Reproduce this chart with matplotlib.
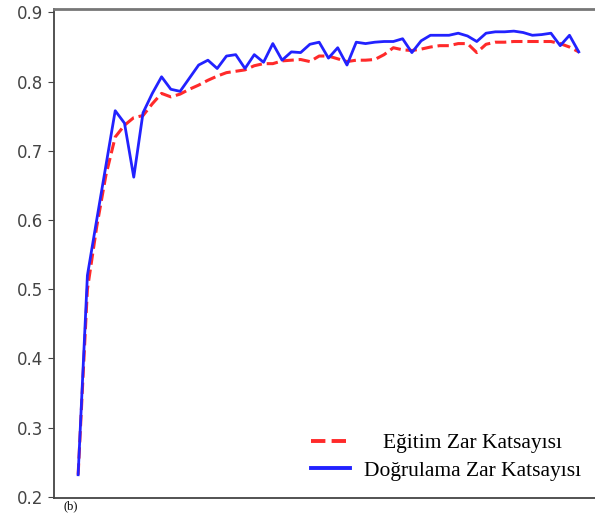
"""
Dice coefficient curves (training vs validation) per epoch.
"""

# %% imports
import numpy as np
import matplotlib
matplotlib.use('Agg')
import matplotlib.pyplot as plt
from matplotlib.transforms import Affine2D


# %% data
egitim = [0.232, 0.500, 0.590, 0.665, 0.720, 0.737, 0.748, 0.751, 0.768, 0.783,
          0.778, 0.782, 0.789, 0.795, 0.802, 0.808, 0.813, 0.815, 0.817, 0.823,
          0.826, 0.826, 0.830, 0.831, 0.832, 0.829, 0.837, 0.837, 0.833, 0.829,
          0.831, 0.831, 0.832, 0.839, 0.849, 0.846, 0.845, 0.847, 0.850, 0.852,
          0.852, 0.855, 0.855, 0.842, 0.854, 0.857, 0.857, 0.858, 0.858, 0.858,
          0.858, 0.858, 0.855, 0.850, 0.843]

dogrulama = [0.232, 0.520, 0.600, 0.679, 0.758, 0.740, 0.662, 0.755, 0.783, 0.807,
             0.789, 0.786, 0.805, 0.824, 0.831, 0.819, 0.837, 0.839, 0.819, 0.839,
             0.828, 0.855, 0.831, 0.843, 0.842, 0.854, 0.857, 0.834, 0.849, 0.824,
             0.857, 0.855, 0.857, 0.858, 0.858, 0.862, 0.842, 0.859, 0.867, 0.867,
             0.867, 0.870, 0.866, 0.858, 0.870, 0.872, 0.872, 0.873, 0.871, 0.867,
             0.868, 0.870, 0.852, 0.867, 0.843]

labels = ['Eğitim Zar Katsayısı', 'Doğrulama Zar Katsayısı']
yticks = [0.2, 0.3, 0.4, 0.5, 0.6, 0.7, 0.8, 0.9]

epochs = np.arange(len(egitim))


# %% plot
fig = plt.figure(figsize=(5.95, 5.13), dpi=100)
ax = fig.add_axes([0.0908, 0.0287, 0.9224, 0.9538])

ax.plot(epochs, egitim, '--', color='#ff2a2a', lw=2.2, label=labels[0])
ax.plot(epochs, dogrulama, '-', color='#2222ff', lw=2.0, label=labels[1])

ax.set_xlim(-2.6, 56.6)
ax.set_ylim(0.198, 0.905)
ax.set_yticks(yticks)
ax.set_yticklabels([f'{v:.1f}' for v in yticks])
ax.set_xticks([])
ax.tick_params(axis='y', labelsize=12, labelcolor='#444444', color='#444444', length=4)
for side in ['left', 'bottom', 'top', 'right']:
    ax.spines[side].set_color('#444444')
    ax.spines[side].set_linewidth(1.3)
ax.spines['top'].set_color('#777777')
ax.spines['top'].set_linewidth(2.0)

leg = ax.legend(loc='center left', bbox_to_anchor=(311 / 595, 1 - 457 / 513),
                bbox_transform=fig.transFigure, frameon=False, borderpad=0,
                borderaxespad=0, handlelength=1.8, handletextpad=0.65,
                labelspacing=0.35, prop={'family': 'Liberation Serif', 'size': 15.5})
for line in leg.get_lines():
    line.set_linewidth(2.8)

# centre the legend texts on each other like in the reference
fig.canvas.draw()
widths = [t.get_window_extent().width for t in leg.get_texts()]
for t, w in zip(leg.get_texts(), widths):
    t.set_transform(t.get_transform() + Affine2D().translate((max(widths) - w) / 2, 0))

# panel tag just under the axes (cut off in the scanned original)
fig.text(63 / 595, 1 / 513, '(b)', va='bottom', ha='left', fontsize=9,
         family='Liberation Serif')

fig.savefig('out.png', dpi=100)
